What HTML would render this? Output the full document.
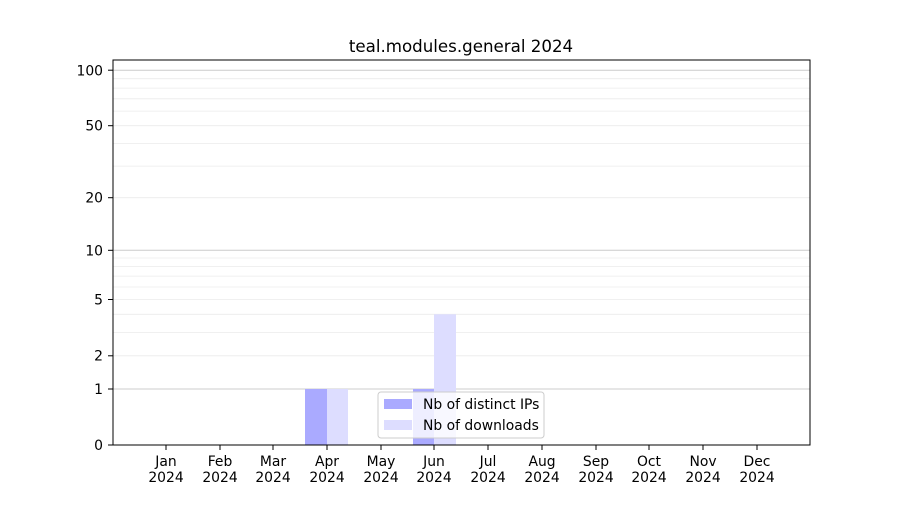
<!DOCTYPE html>
<html><head><meta charset="utf-8"><style>body{margin:0;background:#fff}</style></head><body>
<svg width="900" height="500" xmlns="http://www.w3.org/2000/svg" font-family="DejaVu Sans, sans-serif" font-size="13.9">
<rect width="900" height="500" fill="#fff"/>
<g stroke="#ebebeb" stroke-width="0.8">
<line x1="113" x2="810" y1="355.8" y2="355.8"/><line x1="113" x2="810" y1="332.4" y2="332.4"/>
<line x1="113" x2="810" y1="314.3" y2="314.3"/><line x1="113" x2="810" y1="299.5" y2="299.5"/>
<line x1="113" x2="810" y1="287" y2="287"/><line x1="113" x2="810" y1="276.1" y2="276.1"/>
<line x1="113" x2="810" y1="266.6" y2="266.6"/><line x1="113" x2="810" y1="258" y2="258"/>
<line x1="113" x2="810" y1="197.7" y2="197.7"/><line x1="113" x2="810" y1="166.1" y2="166.1"/>
<line x1="113" x2="810" y1="143.4" y2="143.4"/><line x1="113" x2="810" y1="125.7" y2="125.7"/>
<line x1="113" x2="810" y1="111.1" y2="111.1"/><line x1="113" x2="810" y1="98.8" y2="98.8"/>
<line x1="113" x2="810" y1="88.1" y2="88.1"/><line x1="113" x2="810" y1="78.7" y2="78.7"/>
</g>
<g stroke="#cccccc" stroke-width="1">
<line x1="113" x2="810" y1="389" y2="389"/><line x1="113" x2="810" y1="250.3" y2="250.3"/><line x1="113" x2="810" y1="70.2" y2="70.2"/>
</g>
<rect x="305" y="389" width="22" height="56" fill="#aaaaff"/>
<rect x="327" y="389" width="21" height="56" fill="#ddddff"/>
<rect x="413" y="389" width="21" height="56" fill="#aaaaff"/>
<rect x="434" y="314.3" width="22" height="130.7" fill="#ddddff"/>
<rect x="113" y="60" width="697" height="385" fill="none" stroke="#000" stroke-width="1"/>
<text x="461" y="52" text-anchor="middle" font-size="16.67">teal.modules.general 2024</text>
<g text-anchor="end">
<text x="103" y="450">0</text><text x="103" y="394">1</text><text x="103" y="360.5">2</text>
<text x="103" y="304.5">5</text><text x="103" y="255.5">10</text><text x="103" y="202.5">20</text>
<text x="103" y="130.5">50</text><text x="103" y="75.5">100</text>
</g>
<g stroke="#000"><line x1="108" x2="113" y1="445" y2="445"/><line x1="108" x2="113" y1="389" y2="389"/><line x1="108" x2="113" y1="355.8" y2="355.8"/><line x1="108" x2="113" y1="299.5" y2="299.5"/><line x1="108" x2="113" y1="250.3" y2="250.3"/><line x1="108" x2="113" y1="197.7" y2="197.7"/><line x1="108" x2="113" y1="125.7" y2="125.7"/><line x1="108" x2="113" y1="70.2" y2="70.2"/></g>
<g text-anchor="middle">
<text x="166" y="466">Jan</text><text x="166" y="482">2024</text>
<text x="220" y="466">Feb</text><text x="220" y="482">2024</text>
<text x="273" y="466">Mar</text><text x="273" y="482">2024</text>
<text x="327" y="466">Apr</text><text x="327" y="482">2024</text>
<text x="381" y="466">May</text><text x="381" y="482">2024</text>
<text x="434" y="466">Jun</text><text x="434" y="482">2024</text>
<text x="488" y="466">Jul</text><text x="488" y="482">2024</text>
<text x="542" y="466">Aug</text><text x="542" y="482">2024</text>
<text x="596" y="466">Sep</text><text x="596" y="482">2024</text>
<text x="649" y="466">Oct</text><text x="649" y="482">2024</text>
<text x="703" y="466">Nov</text><text x="703" y="482">2024</text>
<text x="757" y="466">Dec</text><text x="757" y="482">2024</text>
</g>
<g stroke="#000"><line x1="166" x2="166" y1="445" y2="450"/><line x1="220" x2="220" y1="445" y2="450"/><line x1="273" x2="273" y1="445" y2="450"/><line x1="327" x2="327" y1="445" y2="450"/><line x1="381" x2="381" y1="445" y2="450"/><line x1="434" x2="434" y1="445" y2="450"/><line x1="488" x2="488" y1="445" y2="450"/><line x1="542" x2="542" y1="445" y2="450"/><line x1="596" x2="596" y1="445" y2="450"/><line x1="649" x2="649" y1="445" y2="450"/><line x1="703" x2="703" y1="445" y2="450"/><line x1="757" x2="757" y1="445" y2="450"/></g>
<rect x="378" y="392" width="166" height="46" rx="3" fill="#fff" fill-opacity="0.8" stroke="#cccccc"/>
<rect x="384" y="399" width="28" height="10" fill="#aaaaff"/>
<rect x="384" y="420" width="28" height="10" fill="#ddddff"/>
<text x="423" y="409">Nb of distinct IPs</text>
<text x="423" y="430">Nb of downloads</text>
</svg>
</body></html>
